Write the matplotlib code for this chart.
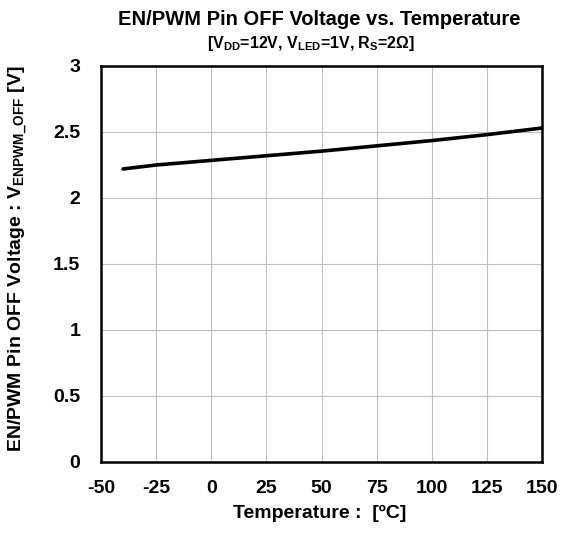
import matplotlib
matplotlib.use("Agg")
import matplotlib.pyplot as plt

# Дані з графіка
temps = [-40, -25, 0, 25, 50, 75, 100, 125, 150]
v_off = [2.22, 2.25, 2.285, 2.32, 2.355, 2.395, 2.435, 2.48, 2.53]
x_ticks = [-50, -25, 0, 25, 50, 75, 100, 125, 150]
x_tick_labels = ["-50", "-25", "0", "25", "50", "75", "100", "125", "150"]
y_ticks = [0, 0.5, 1, 1.5, 2, 2.5, 3]
y_tick_labels = ["0", "0.5", "1", "1.5", "2", "2.5", "3"]

plt.rcParams["font.family"] = ["Liberation Sans", "DejaVu Sans"]
plt.rcParams["font.weight"] = "bold"
plt.rcParams["mathtext.fontset"] = "custom"
plt.rcParams["mathtext.rm"] = "Liberation Sans:bold"
plt.rcParams["mathtext.bf"] = "Liberation Sans:bold"
plt.rcParams["mathtext.it"] = "Liberation Sans:bold"

fig = plt.figure(figsize=(5.67, 5.33), dpi=100)
ax = fig.add_axes([101 / 567, 71 / 533, 441 / 567, 396 / 533])

ax.plot(temps, v_off, color="black", lw=2.6, solid_capstyle="round")

ax.set_xlim(-50, 150)
ax.set_ylim(0, 3)
ax.set_xticks(x_ticks)
ax.set_xticklabels(x_tick_labels)
ax.set_yticks(y_ticks)
ax.set_yticklabels(y_tick_labels)
ax.tick_params(length=0, labelsize=14)
ax.tick_params(axis="x", pad=13)
ax.tick_params(axis="y", pad=15)
for lab in ax.get_xticklabels() + ax.get_yticklabels():
    lab.set_fontweight("bold")
ax.grid(True, color="#c0c0c0", lw=0.8)
for s in ax.spines.values():
    s.set_linewidth(1.8)
    s.set_color("black")

fig.text(0.563, 0.0375, "Temperature :  [ºC]",
         ha="center", va="center", fontsize=14, fontweight="bold")
fig.text(18 / 567, 0.515, r"EN/PWM Pin OFF Voltage : V$_{\mathrm{ENPWM\_OFF}}$ [V]",
         ha="center", va="center", rotation=90, fontsize=14, fontweight="bold")

fig.text(0.563, 0.964, "EN/PWM Pin OFF Voltage vs. Temperature",
         ha="center", va="center", fontsize=14.5, fontweight="bold")
fig.text(0.548, 0.918, r"[V$_{\mathrm{DD}}$=12V, V$_{\mathrm{LED}}$=1V, R$_{\mathrm{S}}$=2Ω]",
         ha="center", va="center", fontsize=11.5, fontweight="bold")

fig.savefig("out.png", dpi=100)
